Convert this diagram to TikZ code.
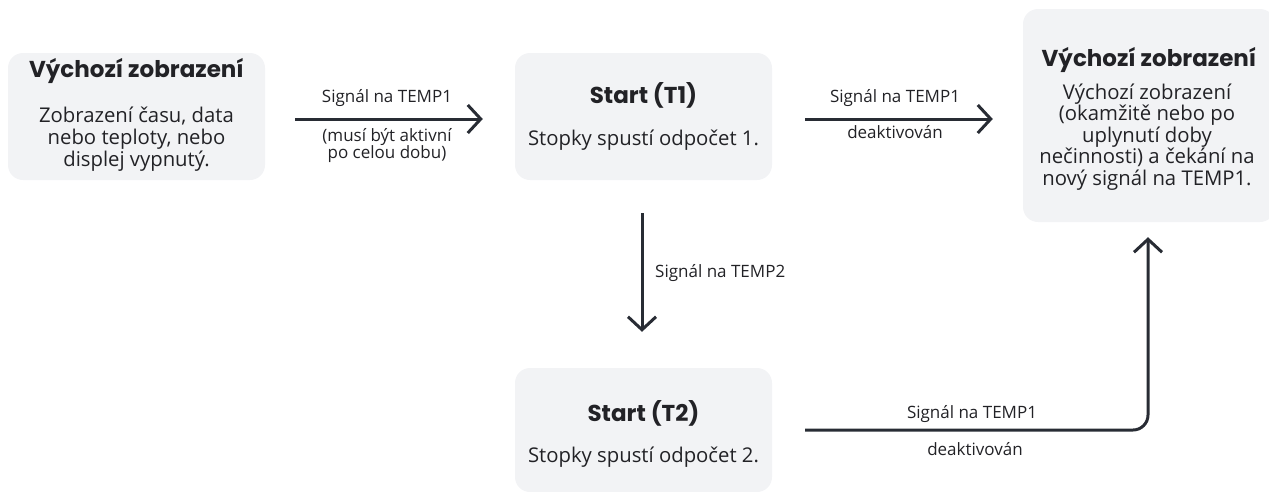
\documentclass[tikz,border=0pt]{standalone}
\usepackage{fontspec}
\setmainfont{Open Sans}
\newfontfamily\titlefont{Poppins}[BoldFont={* Bold}]
\usetikzlibrary{arrows.meta}
\definecolor{boxfill}{RGB}{242,243,245}
\definecolor{linecol}{RGB}{40,44,52}
\definecolor{txtcol}{RGB}{34,34,38}
\tikzset{
  box/.style={fill=boxfill, rounded corners=15pt, draw=none, inner sep=0pt},
  ttl/.style={anchor=base, font=\titlefont\bfseries\fontsize{23}{27}\selectfont, text=txtcol, inner sep=0pt},
  body/.style={anchor=base, font=\fontsize{20.3}{24}\selectfont, text=txtcol, inner sep=0pt, align=center},
  lbl/.style={anchor=base, font=\fontsize{17}{20}\selectfont, text=txtcol, inner sep=0pt, align=center},
  conn/.style={draw=linecol, line width=3pt, -{Straight Barb[length=13pt,width=28pt,line width=3pt]}},
}
\begin{document}
\begin{tikzpicture}[x=1pt,y=-1pt]
\useasboundingbox (0,0) rectangle (1269,491);
% boxes
\node[box, minimum width=257pt, minimum height=127pt] (b1) at (136.5,116.5) {};
\node[box, minimum width=257pt, minimum height=127pt] (b2) at (643.5,116.5) {};
\node[box, minimum width=252pt, minimum height=213pt] (b3) at (1149,115.5) {};
\node[box, minimum width=257pt, minimum height=124pt] (b4) at (643.5,430) {};
% texts
\node[ttl] (t1) at (136.5,77) {Výchozí zobrazení};
\node[body] (d1a) at (136.5,122) {Zobrazení času, data};
\node[body] (d1b) at (136.5,144) {nebo teploty, nebo};
\node[body] (d1c) at (136.5,166) {displej vypnutý.};
\node[ttl] (t2) at (643.5,103) {Start (T1)};
\node[body] (d2) at (643.5,145) {Stopky spustí odpočet 1.};
\node[ttl] (t3) at (1149,66) {Výchozí zobrazení};
\node[body] (d3a) at (1147,99) {Výchozí zobrazení};
\node[body] (d3b) at (1147,120.5) {(okamžitě nebo po};
\node[body] (d3c) at (1147,142) {uplynutí doby};
\node[body] (d3d) at (1147,163.5) {nečinnosti) a čekání na};
\node[body] (d3e) at (1147,185) {nový signál na TEMP1.};
\node[ttl] (t4) at (643.5,421) {Start (T2)};
\node[body] (d4) at (643.5,462) {Stopky spustí odpočet 2.};
% connectors
\draw[conn, shorten <=30pt, shorten >=32pt] ([yshift=-2.5pt]b1.east) -- ([yshift=-2.5pt]b2.west);
\draw[conn, shorten <=33pt, shorten >=30pt] ([yshift=-2.5pt]b2.east) -- ([yshift=-2.5pt]b2.east -| b3.west);
\draw[conn, shorten <=33pt, shorten >=36pt] ([xshift=-1.5pt]b2.south) -- ([xshift=-1.5pt]b4.north);
\draw[conn, rounded corners=15pt, shorten <=33pt, shorten >=15pt] (b4.east) -| ([xshift=-1pt]b3.south);
% labels
\node[lbl] (l1) at (387,102) {Signál na TEMP1};
\node[lbl] (l1b) at (387,141) {(musí být aktivní};
\node[lbl] (l1c) at (387,158.5) {po celou dobu)};
\node[lbl] (l2) at (895,102) {Signál na TEMP1};
\node[lbl] (l2b) at (895,138) {deaktivován};
\node[lbl, anchor=base west] (l3) at (655,277) {Signál na TEMP2};
\node[lbl] (l4) at (972,418) {Signál na TEMP1};
\node[lbl] (l4b) at (975,455) {deaktivován};
\end{tikzpicture}
\end{document}
